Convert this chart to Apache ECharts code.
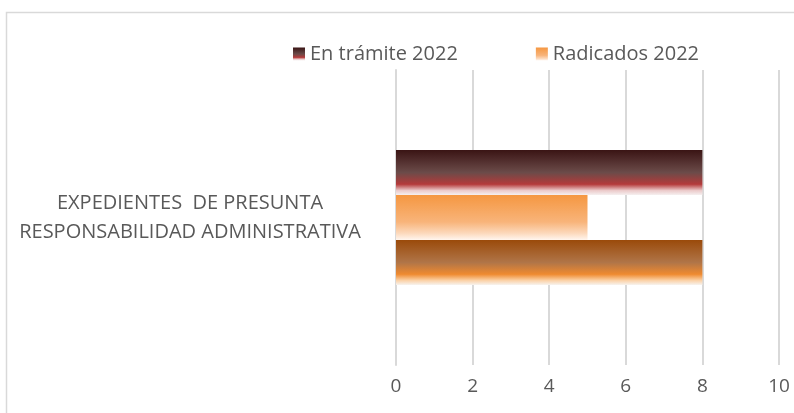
<!DOCTYPE html>
<html>
<head>
<meta charset="utf-8">
<script src="https://cdn.jsdelivr.net/npm/echarts@6/dist/echarts.min.js"></script>
<style>
  html, body { margin: 0; padding: 0; background: #fff; }
  #chart { width: 794px; height: 413px; }
</style>
</head>
<body>
<div id="chart"></div>
<script>
// datos
var categorias = ['EXPEDIENTES  DE PRESUNTA\nRESPONSABILIDAD ADMINISTRATIVA'];
var nombres = ['En trámite 2022', 'Radicados 2022', 'Total 2022'];
var valores = [[8], [5], [8]];
var ticks = [0, 2, 4, 6, 8, 10];

var grad = function(stops) {
  return new echarts.graphic.LinearGradient(0, 0, 0, 1, stops.map(function(s) {
    return { offset: s[0], color: s[1] };
  }));
};

var colores = [
  grad([[0, '#3a1414'], [0.5, '#6b4b49'], [0.76, '#b43a3a'], [0.9, '#ebcaca'], [1, '#f6f0f0']]),
  grad([[0, '#f59741'], [0.6, '#f8b47a'], [0.85, '#fcd9bc'], [1, '#fff6ef']]),
  grad([[0, '#9a4a0a'], [0.5, '#b07548'], [0.76, '#ef8a30'], [0.9, '#fbd2a8'], [1, '#f7f3ef']])
];

var chart = echarts.init(document.getElementById('chart'));

var series = [];
for (var i = 0; i < nombres.length; i++) {
  series.push({
    name: nombres[i],
    type: 'bar',
    data: valores[i],
    barWidth: 45,
    barGap: '0%',
    itemStyle: { color: colores[i] },
    emphasis: { disabled: true }
  });
}

chart.setOption({
  animation: false,
  textStyle: { fontFamily: 'Open Sans' },
  graphic: [{
    type: 'rect',
    shape: { x: 6.5, y: 12.5, width: 800, height: 420 },
    style: { fill: 'none', stroke: '#d9d9d9', lineWidth: 1.5 },
    silent: true
  }],
  legend: {
    data: ['En trámite 2022', 'Radicados 2022'],
    top: 39,
    left: 288,
    itemWidth: 12,
    itemHeight: 13,
    itemGap: 78,
    icon: 'rect',
    textStyle: { fontSize: 20, color: '#595959', fontFamily: 'Open Sans' }
  },
  grid: { left: 396, right: 15, top: 70, height: 295, containLabel: false },
  xAxis: {
    type: 'value',
    min: 0,
    max: 10,
    interval: 2,
    axisLine: { show: false },
    axisTick: { show: false },
    axisLabel: {
      fontSize: 19,
      color: '#595959',
      margin: 12,
      formatter: function(v) { return ticks.indexOf(v) >= 0 ? String(v) : ''; }
    },
    splitLine: { lineStyle: { color: '#d9d9d9', width: 2 } }
  },
  yAxis: {
    type: 'category',
    data: categorias,
    axisLine: { show: true, lineStyle: { color: '#d9d9d9', width: 2 } },
    axisTick: { show: false },
    axisLabel: {
      fontSize: 20,
      color: '#595959',
      lineHeight: 29,
      align: 'center',
      margin: 206
    }
  },
  series: series
});
</script>
</body>
</html>
